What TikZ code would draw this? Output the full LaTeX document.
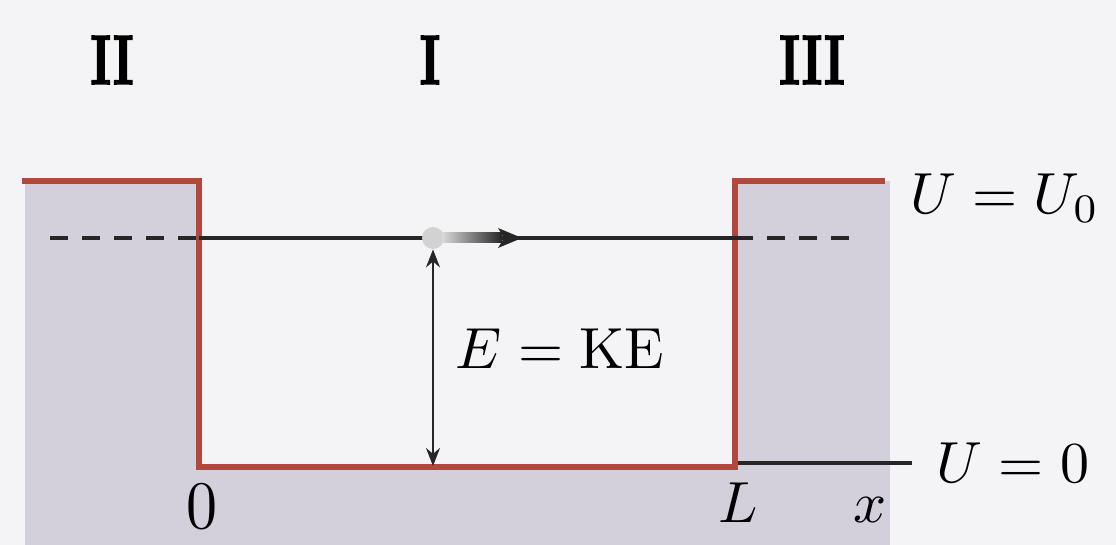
\documentclass[tikz,border=0pt]{standalone}
\usepackage{fontspec}
\newfontfamily\heavyfont[FakeBold=2.5]{lmroman10-bold.otf}
\usetikzlibrary{arrows.meta}
\definecolor{bg}{HTML}{F4F4F7}
\definecolor{wall}{HTML}{D3D0DC}
\definecolor{redline}{HTML}{B2473D}
\tikzset{
  lbl/.style={inner sep=0pt, scale=2.9},
  region/.style={inner sep=0pt, xscale=2.4, yscale=3.5, font=\heavyfont},
  potential/.style={draw=redline, line width=2.6pt, line join=miter},
  levelline/.style={draw=black!85, line width=2pt},
  levelbroken/.style={draw=black!85, line width=2pt, dash pattern=on 9pt off 7pt},
  heightarrow/.style={draw=black!85, line width=1.1pt, {Stealth[length=9pt,width=7pt]}-{Stealth[length=9pt,width=7pt]}},
}
\begin{document}
\begin{tikzpicture}[x=0.5pt,y=-0.5pt]
\fill[bg] (0,0) rectangle (1116,545);
\useasboundingbox (0,0) rectangle (1116,545);
% shaded barrier regions
\fill[wall] (25,181) rectangle (890,545);
\fill[bg] (199,181) rectangle (735,467);
% potential well
\coordinate (tl) at (22,181);
\coordinate (wl) at (199,181);
\coordinate (bl) at (199,467);
\coordinate (br) at (735,467);
\coordinate (wr) at (735,181);
\coordinate (tr) at (885,181);
\draw[potential] (tl) -- (wl) -- (bl) -- (br) -- (wr) -- (tr);
% energy level
\coordinate (el) at (50,238);
\coordinate (ewl) at (199,238);
\coordinate (ewr) at (735,238);
\coordinate (er) at (858,238);
\draw[levelbroken] (el) -- (ewl);
\draw[levelline] (ewl) -- (ewr);
\draw[levelbroken] (ewr) -- (er);
% particle with motion arrow
\node[circle, fill=gray!35, minimum size=11pt, inner sep=0pt] (p) at (433,238) {};
\shade[left color=gray!30, right color=black!85] (442,233) rectangle (502,243);
\coordinate (tip) at (522,238);
\fill[black!85] (498,228) -- (tip) -- (498,248) -- (504,238) -- cycle;
% E = KE arrow
\coordinate (fl) at (433,466);
\draw[heightarrow] (p.south) -- (fl);
\node[lbl] (ke) at (560,349) {$E = \mathrm{KE}$};
% labels
\node[region] (r2) at (112,60) {II};
\node[region] (r1) at (430,60) {I};
\node[region] (r3) at (812,60) {III};
\node[lbl] (uu0) at (1005,198) {$U = U_0$};
\node[lbl] (u0) at (1013,463) {$U = 0$};
\coordinate (u0s) at (738,463);
\draw[levelline] (u0s) -- ([xshift=-12pt]u0.west);
\node[inner sep=0pt, xscale=3.1, yscale=3.4] (zero) at (202,507) {$0$};
\node[lbl, anchor=base] (ell) at (738,523) {$L$};
\node[lbl, anchor=base] (xx) at (870,523) {$x$};
\end{tikzpicture}
\end{document}
